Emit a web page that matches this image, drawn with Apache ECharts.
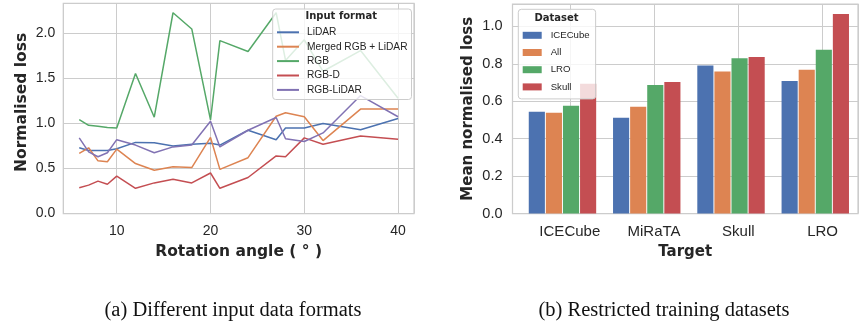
<!DOCTYPE html>
<html><head><meta charset="utf-8">
<script src="https://cdn.jsdelivr.net/npm/echarts@6/dist/echarts.min.js"></script>
<style>html,body{margin:0;padding:0;background:#fff}#c{width:862px;height:324px}</style>
</head><body><div id="c"></div>
<script>
// ---- (a) Different input data formats ----
const angles = [6,7,8,9,10,12,14,16,18,20,21,24,27,28,30,32,36,40];
const lidar    = [0.73,0.70,0.70,0.70,0.72,0.79,0.785,0.75,0.77,0.78,0.76,0.925,0.82,0.95,0.95,1.00,0.93,1.055];
const merged   = [0.667,0.73,0.585,0.575,0.715,0.555,0.48,0.52,0.51,0.845,0.49,0.62,1.08,1.12,1.075,0.81,1.16,1.16];
const rgb      = [1.044,0.98,0.97,0.955,0.95,1.556,1.07,2.23,2.05,1.04,1.92,1.80,2.23,1.70,1.93,1.58,1.81,1.28];
const rgbd     = [0.285,0.315,0.36,0.325,0.415,0.28,0.34,0.38,0.34,0.45,0.28,0.40,0.64,0.63,0.84,0.77,0.86,0.825];
const rgbLidar = [0.84,0.685,0.63,0.675,0.82,0.76,0.675,0.74,0.76,1.025,0.74,0.925,1.067,0.83,0.80,0.895,1.31,1.075];
const lineNames = ['LiDAR','Merged RGB + LiDAR','RGB','RGB-D','RGB-LiDAR'];
const lineData = [lidar, merged, rgb, rgbd, rgbLidar];

// ---- (b) Restricted training datasets ----
const targets = ['ICECube','MiRaTA','Skull','LRO'];
const trainICECube = [0.544,0.512,0.791,0.709];
const trainAll     = [0.539,0.571,0.759,0.768];
const trainLRO     = [0.576,0.687,0.830,0.875];
const trainSkull   = [0.693,0.703,0.836,1.066];
const barNames = ['ICECube','All','LRO','Skull'];
const barData = [trainICECube, trainAll, trainLRO, trainSkull];

const yTicksA = [0, 0.5, 1.0, 1.5, 2.0];
const yTicksB = [0, 0.2, 0.4, 0.6, 0.8, 1.0];

const palette = ['#4C72B0','#DD8452','#55A868','#C44E52','#8172B3'];
const TXT = '#262626', GRID = '#cccccc';
const tickFont = {fontFamily:'Liberation Sans', fontSize:14, color:TXT};
const titleFont = {fontFamily:'DejaVu Sans', fontWeight:'bold', fontSize:15.5, color:TXT};

const near = (v, arr) => arr.some(t => Math.abs(t - v) < 1e-6);

const chart = echarts.init(document.getElementById('c'), null, {renderer:'canvas'});

const series = [];
lineNames.forEach((n, k) => {
  series.push({
    name: n, type: 'line', xAxisIndex: 0, yAxisIndex: 0,
    data: angles.map((a, i) => [a, lineData[k][i]]),
    symbol: 'none', color: palette[k],
    lineStyle: {width: 1.5, color: palette[k]}, z: 3, animation: false
  });
});
barNames.forEach((n, k) => {
  series.push({
    name: n, type: 'bar', xAxisIndex: 2, yAxisIndex: 1,
    data: targets.map((t, i) => [i, barData[k][i]]),
    color: palette[k], itemStyle: {color: palette[k]},
    barCategoryGap: '20%', barGap: '6%', animation: false
  });
});

chart.setOption({
  animation: false,
  backgroundColor: '#ffffff',
  grid: [
    {left: 63.3, top: 3.3, width: 350.7, height: 210.2, show: true, borderColor: GRID, borderWidth: 1.25, backgroundColor: '#fff', outerBoundsMode: 'none'},
    {left: 512.5, top: 4, width: 345.5, height: 209.5, show: true, borderColor: GRID, borderWidth: 1.25, backgroundColor: '#fff', outerBoundsMode: 'none'}
  ],
  xAxis: [
    {type: 'value', gridIndex: 0, min: 4.3, max: 41.7, splitNumber: 4,
     axisLine: {show: false}, axisTick: {show: false},
     splitLine: {show: true, lineStyle: {color: GRID, width: 1}},
     axisLabel: Object.assign({margin: 11, showMinLabel: true, showMaxLabel: true,
       formatter: v => (Math.abs(v % 10) < 1e-6 && v >= 10 ? String(v) : '')}, tickFont),
     name: 'Rotation angle ( ° )', nameLocation: 'middle', nameGap: 30, nameTextStyle: titleFont},
    {type: 'value', gridIndex: 1, min: -0.68, max: 3.42, splitNumber: 4,
     axisLine: {show: false}, axisTick: {show: false},
     splitLine: {show: true, lineStyle: {color: GRID, width: 1}},
     axisLabel: Object.assign({margin: 11,
       formatter: v => (Math.abs(v - Math.round(v)) < 1e-6 && targets[Math.round(v)] !== undefined ? targets[Math.round(v)] : '')}, tickFont, {fontSize: 15}),
     name: 'Target', nameLocation: 'middle', nameGap: 30, nameTextStyle: Object.assign({}, titleFont, {fontSize: 15})},
    {type: 'value', gridIndex: 1, min: -0.593, max: 3.507, show: false, splitLine: {show: false}}
  ],
  yAxis: [
    {type: 'value', gridIndex: 0, min: 0, max: 2.335, interval: 0.5,
     axisLine: {show: false}, axisTick: {show: false},
     splitLine: {show: true, lineStyle: {color: GRID, width: 1}},
     axisLabel: Object.assign({margin: 8, formatter: v => (near(v, yTicksA) ? v.toFixed(1) : '')}, tickFont),
     name: 'Normalised loss', nameLocation: 'middle', nameGap: 33, nameTextStyle: Object.assign({}, titleFont, {padding: [0, 0, 0, 12]})},
    {type: 'value', gridIndex: 1, min: 0, max: 1.12, interval: 0.2,
     axisLine: {show: false}, axisTick: {show: false},
     splitLine: {show: true, lineStyle: {color: GRID, width: 1}},
     axisLabel: Object.assign({margin: 10, formatter: v => (near(v, yTicksB) ? v.toFixed(1) : '')}, tickFont, {fontSize: 14.5}),
     name: 'Mean normalised loss', nameLocation: 'middle', nameGap: 37, nameTextStyle: Object.assign({}, titleFont, {fontSize: 15})}
  ],
  legend: [
    {data: lineNames, orient: 'vertical', left: 272.7, top: 9,
     padding: [18.3, 4, 4.6, 3.3], itemWidth: 22, itemHeight: 10, itemGap: 4.4,
     itemStyle: {opacity: 0}, lineStyle: {width: 2},
     backgroundColor: 'rgba(255,255,255,0.8)', borderColor: GRID, borderWidth: 1, borderRadius: 3,
     textStyle: {fontFamily: 'Liberation Sans', fontSize: 10.2, color: TXT, padding: [0,0,0,3]},
     selectedMode: false, z: 10},
    {data: barNames.map(n => ({name: n, icon: 'rect'})), orient: 'vertical', left: 518.3, top: 9.3,
     padding: [21, 6, 7, 4.4], itemWidth: 19, itemHeight: 7, itemGap: 7.2,
     backgroundColor: 'rgba(255,255,255,0.8)', borderColor: GRID, borderWidth: 1, borderRadius: 3,
     textStyle: {fontFamily: 'Liberation Sans', fontSize: 9.6, color: TXT, padding: [0,0,0,4]},
     selectedMode: false, z: 10}
  ],
  graphic: [
    {type: 'text', left: 341.5 - 36, top: 11.5, z: 100,
     style: {text: 'Input format', fontFamily: 'DejaVu Sans', fontWeight: 'bold', fontSize: 10, fill: TXT}},
    {type: 'text', left: 556.5 - 22, top: 13.3, z: 100,
     style: {text: 'Dataset', fontFamily: 'DejaVu Sans', fontWeight: 'bold', fontSize: 10, fill: TXT}},
    {type: 'text', x: 233, y: 311, z: 100,
     style: {text: '(a) Different input data formats', fontFamily: 'Liberation Serif', fontSize: 20.5, fill: '#111', align: 'center', verticalAlign: 'middle'}},
    {type: 'text', x: 664, y: 311, z: 100,
     style: {text: '(b) Restricted training datasets', fontFamily: 'Liberation Serif', fontSize: 20.5, fill: '#111', align: 'center', verticalAlign: 'middle'}}
  ],
  series: series
});
</script></body></html>
